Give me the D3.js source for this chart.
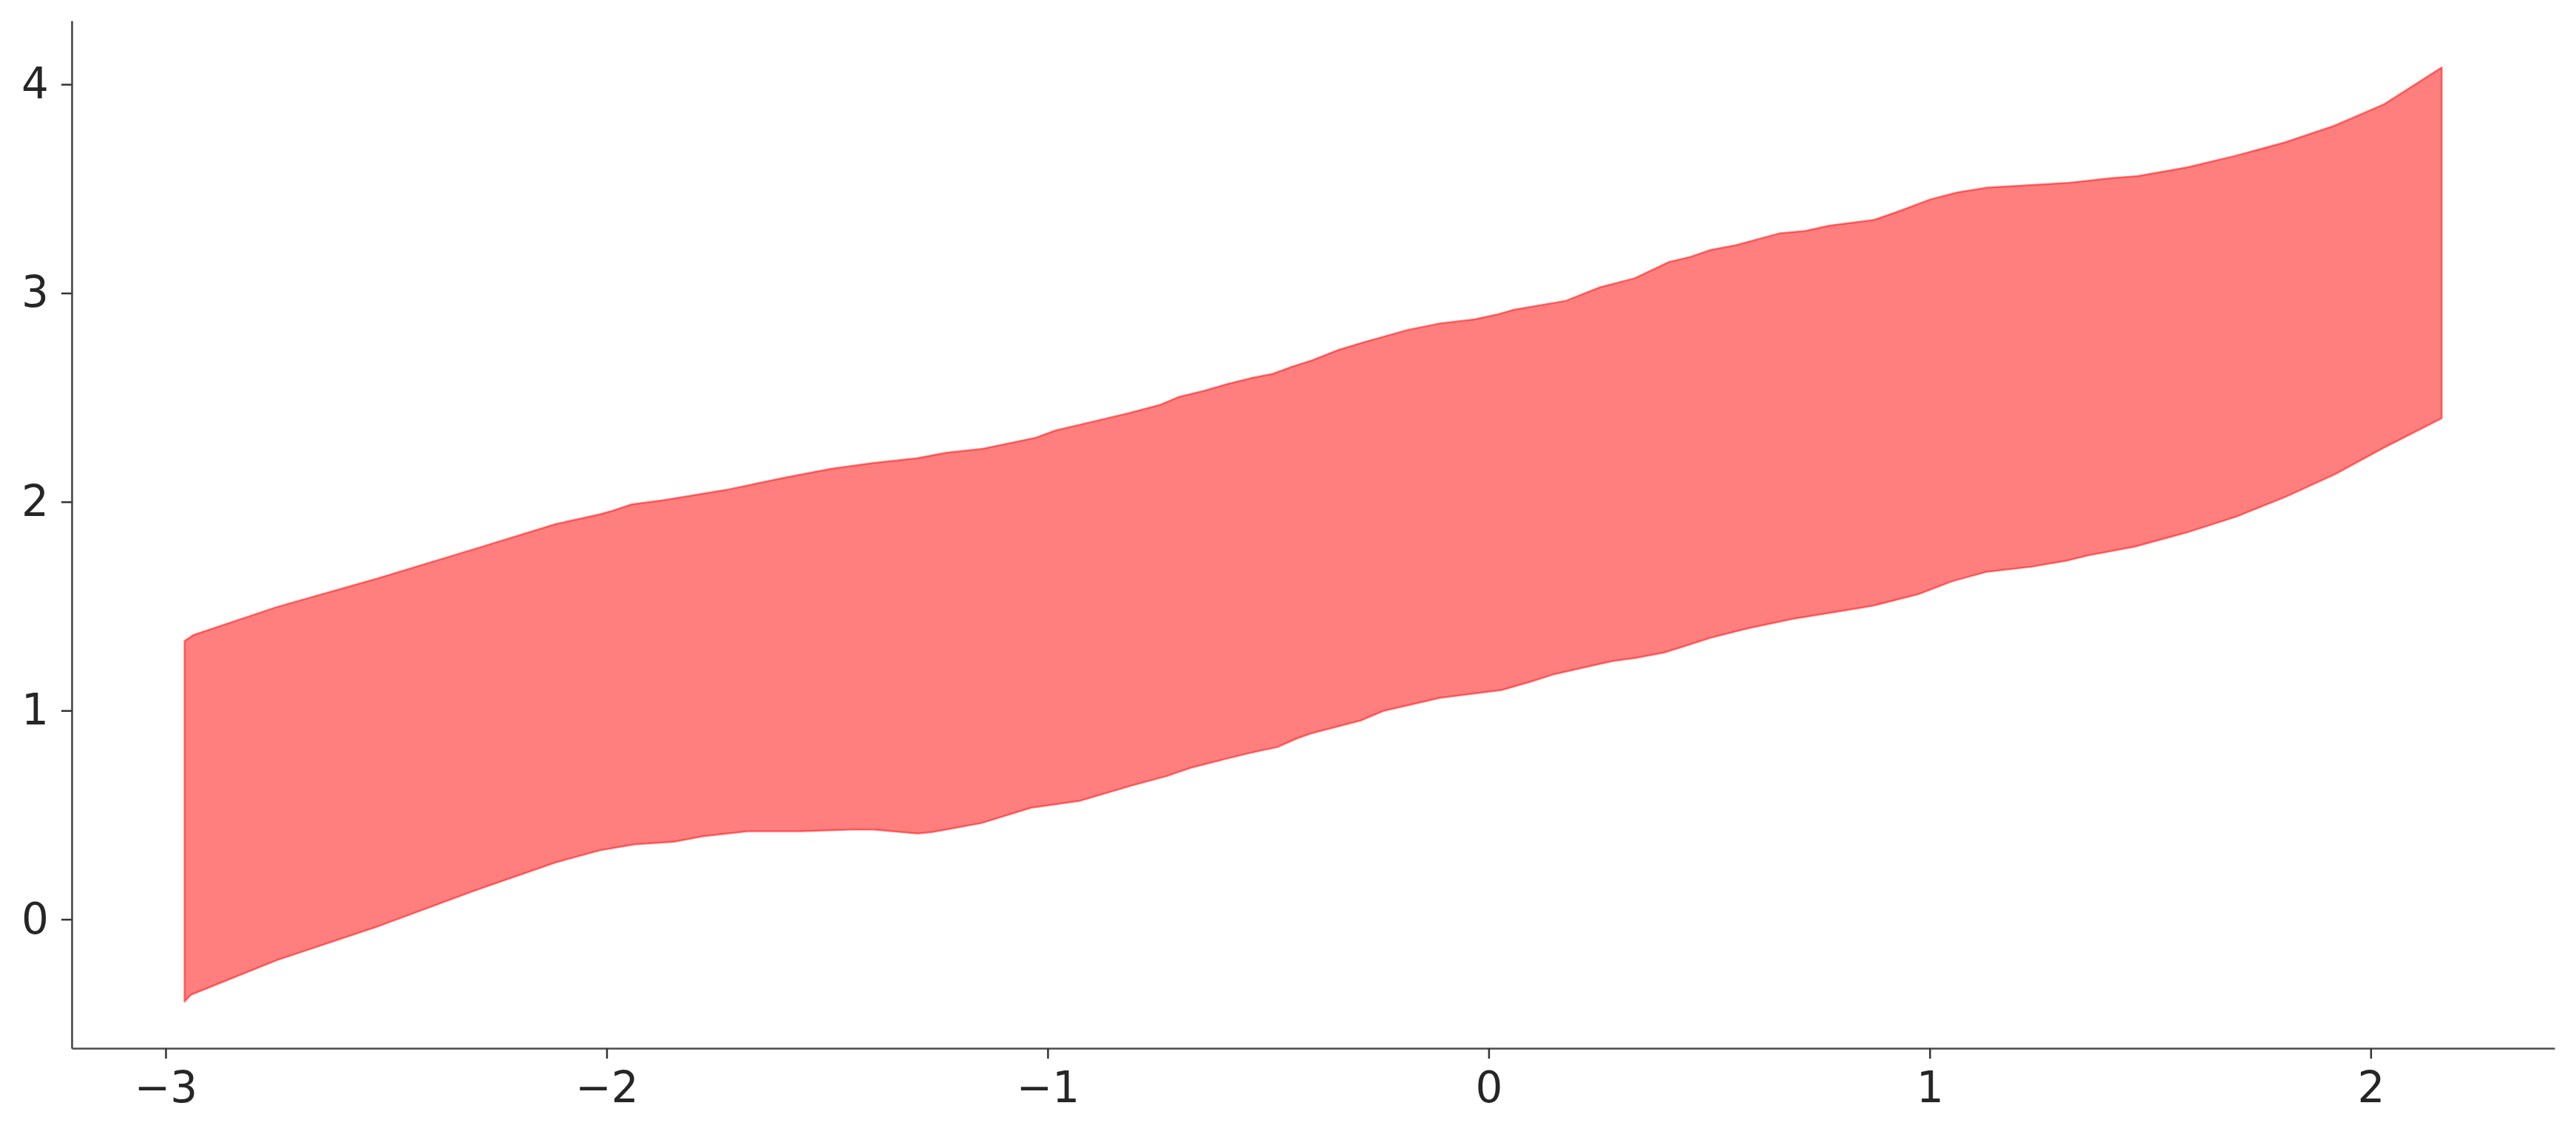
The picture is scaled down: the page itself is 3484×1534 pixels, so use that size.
<!DOCTYPE html>
<html>
<head>
<meta charset="utf-8">
<script src="https://d3js.org/d3.v7.min.js"></script>
<style>
  html, body { margin: 0; padding: 0; background: #fff; }
  .axis text { font-family: 'DejaVu Sans', sans-serif; font-size: 58px; fill: #262626; }
  .axis .domain { stroke: #4d4d4d; stroke-width: 2.7px; }
  .axis .tick line { stroke: #333; stroke-width: 2.5px; }
</style>
</head>
<body>
<div id="canvas" class="canvas"></div>
<script>
// upper edge of the band (x, y)
var upperX = [-2.957, -2.937, -2.748, -2.524, -2.301, -2.116, -2.016, -1.993, -1.943, -1.870,
  -1.725, -1.591, -1.490, -1.395, -1.295, -1.228, -1.150, -1.027, -0.982, -0.898,
  -0.814, -0.747, -0.703, -0.647, -0.591, -0.535, -0.490, -0.446, -0.400, -0.340,
  -0.284, -0.183, -0.110, -0.032, 0.024, 0.057, 0.175, 0.253, 0.331, 0.409,
  0.455, 0.504, 0.560, 0.661, 0.717, 0.772, 0.873, 0.929, 1.002, 1.063,
  1.130, 1.231, 1.310, 1.415, 1.471, 1.583, 1.694, 1.806, 1.918, 2.029, 2.161];
var upperY = [1.333, 1.362, 1.496, 1.630, 1.773, 1.893, 1.940, 1.953, 1.988, 2.008,
  2.059, 2.118, 2.159, 2.186, 2.209, 2.236, 2.253, 2.307, 2.342, 2.384,
  2.426, 2.463, 2.502, 2.531, 2.565, 2.594, 2.613, 2.647, 2.678, 2.728,
  2.764, 2.824, 2.855, 2.874, 2.900, 2.920, 2.963, 3.028, 3.071, 3.149,
  3.172, 3.207, 3.229, 3.287, 3.297, 3.323, 3.350, 3.391, 3.449, 3.482,
  3.505, 3.518, 3.527, 3.551, 3.560, 3.602, 3.658, 3.722, 3.802, 3.903, 4.081];

// lower edge of the band (x, y)
var lowerX = [-2.957, -2.943, -2.748, -2.524, -2.301, -2.116, -2.016, -1.937, -1.848, -1.781,
  -1.680, -1.558, -1.446, -1.395, -1.295, -1.261, -1.150, -1.038, -0.926, -0.814,
  -0.730, -0.675, -0.591, -0.535, -0.479, -0.434, -0.400, -0.289, -0.239, -0.110,
  0.029, 0.096, 0.147, 0.281, 0.331, 0.398, 0.455, 0.504, 0.588, 0.689,
  0.795, 0.873, 0.974, 1.052, 1.130, 1.231, 1.310, 1.359, 1.465, 1.583,
  1.694, 1.806, 1.918, 2.029, 2.161];
var lowerY = [-0.394, -0.362, -0.196, -0.038, 0.136, 0.272, 0.330, 0.359, 0.371, 0.398,
  0.422, 0.422, 0.430, 0.430, 0.411, 0.418, 0.461, 0.534, 0.568, 0.638,
  0.686, 0.726, 0.771, 0.800, 0.825, 0.867, 0.892, 0.953, 0.998, 1.061,
  1.098, 1.139, 1.173, 1.237, 1.251, 1.278, 1.316, 1.349, 1.394, 1.439,
  1.475, 1.503, 1.557, 1.620, 1.665, 1.689, 1.718, 1.743, 1.785, 1.853,
  1.928, 2.023, 2.131, 2.258, 2.400];

var xTicks = [-3, -2, -1, 0, 1, 2];
var xTickLabels = ['\u22123', '\u22122', '\u22121', '0', '1', '2'];
var yTicks = [0, 1, 2, 3, 4];
var yTickLabels = ['0', '1', '2', '3', '4'];

var W = 3484, H = 1534;
var m = {t: 28, r: 29, b: 116, l: 97},
    w = W - m.l - m.r,
    h = H - m.t - m.b;

var svg = d3.select('.canvas')
    .append('svg')
    .attr('width', W)
    .attr('height', H);

var plot = svg.append('g')
    .attr('transform', 'translate(' + m.l + ',' + m.t + ')');

// matplotlib style 5% margins around the data
function padded(lo, hi) {
  var p = (hi - lo) * 0.05;
  return [lo - p, hi + p];
}
var allX = upperX.concat(lowerX), allY = upperY.concat(lowerY);

var scaleX = d3.scaleLinear()
    .domain(padded(d3.min(allX), d3.max(allX)))
    .range([0, w]);
var scaleY = d3.scaleLinear()
    .domain(padded(d3.min(allY), d3.max(allY)))
    .range([h, 0]);

// band: upper edge left->right, then lower edge right->left
var upperPts = upperX.map(function(x, i) { return [x, upperY[i]]; });
var lowerPts = lowerX.map(function(x, i) { return [x, lowerY[i]]; }).reverse();
var band = d3.line()
    .x(function(d) { return scaleX(d[0]); })
    .y(function(d) { return scaleY(d[1]); })
    .curve(d3.curveLinearClosed);

plot.append('path')
    .datum(upperPts.concat(lowerPts))
    .attr('d', band)
    .style('fill', 'red')
    .style('fill-opacity', 0.5)
    .style('stroke', 'red')
    .style('stroke-opacity', 0.5)
    .style('stroke-width', '2.5px')
    .style('stroke-linejoin', 'round');

// Axis
var axisX = d3.axisBottom()
    .scale(scaleX)
    .tickValues(xTicks)
    .tickFormat(function(d, i) { return xTickLabels[i]; })
    .tickSizeInner(14)
    .tickSizeOuter(0)
    .tickPadding(18);
var axisY = d3.axisLeft()
    .scale(scaleY)
    .tickValues(yTicks)
    .tickFormat(function(d, i) { return yTickLabels[i]; })
    .tickSizeInner(14)
    .tickSizeOuter(0)
    .tickPadding(17);

plot.append('g').attr('class', 'axis axis-x')
    .attr('transform', 'translate(0,' + h + ')')
    .call(axisX);
plot.append('g').attr('class', 'axis axis-y').call(axisY);

plot.selectAll('.axis text').attr('font-family', null).attr('font-size', null);
</script>
</body>
</html>
